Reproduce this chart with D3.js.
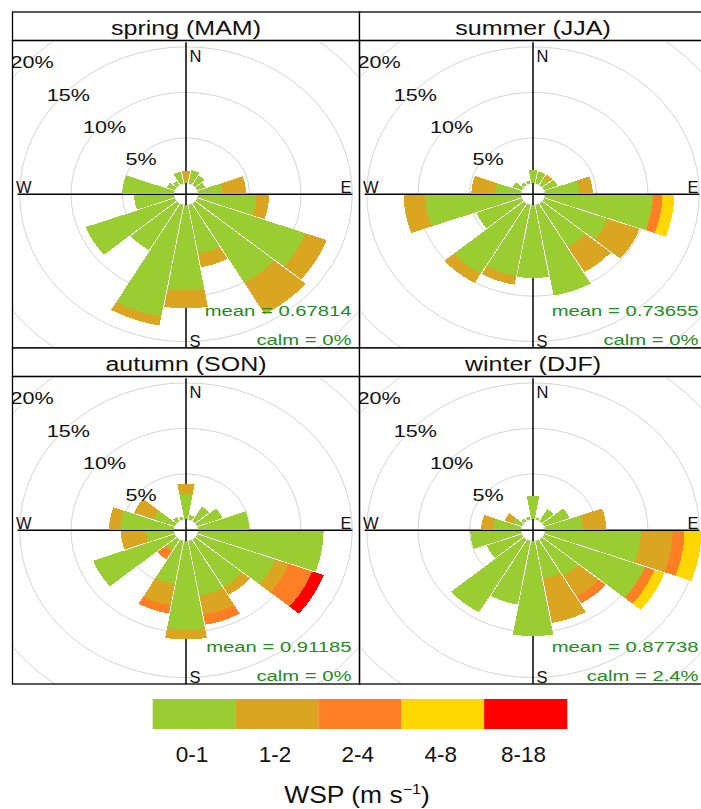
<!DOCTYPE html>
<html>
<head>
<meta charset="utf-8">
<script src="https://cdn.jsdelivr.net/npm/d3@7"></script>
<style>
  html, body { margin: 0; padding: 0; background: #fff; }
  svg { display: block; font-family: "Liberation Sans", Arial, Helvetica, sans-serif; }
</style>
</head>
<body>
<svg id="chart" width="701" height="809"></svg>
<script>
// Wind direction sectors (degrees, 20° bins)
const directions = [0, 20, 40, 60, 80, 100, 120, 140, 160, 180, 200, 220, 240, 260, 280, 300, 320, 340];

// Wind-speed intervals and their colours
const wspBins = ["0-1", "1-2", "2-4", "4-8", "8-18"];
const binColours = ["#9ACD32", "#DAA520", "#FF7F24", "#FFD700", "#FF0000"];

// Panels
const seasonTitles = ["spring (MAM)", "summer (JJA)", "autumn (SON)", "winter (DJF)"];
const meanSpeed = ["0.67814", "0.73655", "0.91185", "0.87738"];
const calmPct = ["0%", "0%", "0%", "2.4%"];
const ringPct = [5, 10, 15, 20];

// Frequency (%) of each speed interval by direction — spring
const spring01  = [0.26, 1.5, 1.2, 0.8, 2.3, 5.65, 11.2, 10.05, 5.45, 9.35, 12.45, 5.9, 9.2, 3.85, 5.0, 0.8, 0.5, 1.3];
const spring12  = [1.1, 0, 0, 0, 2.35, 1.25, 2.2, 4.0, 1.5, 2.0, 1.0, 0, 0, 0, 0, 0, 0, 0];
const spring24  = [0, 0, 0, 0, 0, 0, 0, 0, 0, 0, 0, 0, 0, 0, 0, 0, 0, 0];
const spring48  = [0, 0, 0, 0, 0, 0, 0, 0, 0, 0, 0, 0, 0, 0, 0, 0, 0, 0];
const spring818 = [0, 0, 0, 0, 0, 0, 0, 0, 0, 0, 0, 0, 0, 0, 0, 0, 0, 0];

// summer
const summer01  = [1.45, 1.34, 0.8, 1.35, 3.32, 10.4, 6.56, 5.5, 10.1, 8.0, 7.9, 8.9, 4.67, 9.3, 2.5, 0.9, 0.3, 0.3];
const summer12  = [0, 0, 0.5, 0, 1.3, 0.1, 3.3, 3.2, 0, 0, 1.0, 1.2, 0, 2.1, 2.3, 0, 0, 0];
const summer24  = [0, 0, 0, 0, 0, 0.9, 0, 0, 0, 0, 0, 0, 0, 0, 0, 0, 0, 0];
const summer48  = [0, 0, 0, 0, 0, 1.15, 0, 0, 0, 0, 0, 0, 0, 0, 0, 0, 0, 0];
const summer818 = [0, 0, 0, 0, 0, 0, 0, 0, 0, 0, 0, 0, 0, 0, 0, 0, 0, 0];

// autumn
const autumn01  = [2.8, 0.5, 1.8, 2.6, 4.96, 12.2, 8.07, 6.0, 6.1, 9.7, 4.8, 1.3, 8.44, 2.7, 5.2, 2.2, 0.5, 0.3];
const autumn12  = [1.1, 0, 0, 0, 0, 0, 1.4, 1.0, 2.15, 1.1, 2.4, 0.2, 0, 2.45, 1.1, 2.0, 0, 0];
const autumn24  = [0, 0, 0, 0, 0, 0, 2.43, 0, 1.1, 0, 0.9, 1.0, 0, 0, 0, 0, 0, 0];
const autumn48  = [0, 0, 0, 0, 0, 0, 0, 0, 0, 0, 0, 0, 0, 0, 0, 0, 0, 0];
const autumn818 = [0, 0, 0, 0, 0, 0, 1.2, 0, 0, 0, 0, 0, 0, 0, 0, 0, 0, 0];

// winter
const winter01  = [2.6, 0.2, 1.5, 2.6, 3.64, 9.3, 10.4, 4.6, 4.2, 10.43, 7.1, 9.24, 3.59, 4.9, 2.7, 0.9, 0.3, 0.3];
const winter12  = [0, 0, 0, 0, 2.3, 3.1, 0, 2.6, 4.95, 0, 0, 0, 0, 0, 1.15, 0.85, 0, 0];
const winter24  = [0, 0, 0, 0, 0, 1.15, 1.0, 0.9, 0, 0, 0, 0, 0, 0, 0, 0, 0, 0];
const winter48  = [0, 0, 0, 0, 0, 1.65, 1.05, 0, 0, 0, 0, 0, 0, 0, 0, 0, 0, 0];
const winter818 = [0, 0, 0, 0, 0, 0, 0, 0, 0, 0, 0, 0, 0, 0, 0, 0, 0, 0];

const seasonBins = [
  [spring01, spring12, spring24, spring48, spring818],
  [summer01, summer12, summer24, summer48, summer818],
  [autumn01, autumn12, autumn24, autumn48, autumn818],
  [winter01, winter12, winter24, winter48, winter818]
];

// ---- layout ----
const svg = d3.select("#chart");
const panelLeft = [12.5, 359.5];
const stripTop = [12, 348];
const panelW = 347, stripH = 28.5, panelH = 307.5;
const span = 16.9;        // half-range of the polar scale (frequency + offset units)
const offset = 1.2;       // inner hole radius in frequency units
const sector = 20;
const gapPx = 0.45;

function wedgePath(xs, ys, dirDeg, f1, f2) {
  const r1 = f1 + offset, r2 = f2 + offset;
  const kx = Math.abs(xs(1) - xs(0)), ky = Math.abs(ys(1) - ys(0));
  const arc = (r, forward) => {
    const inset = Math.asin(Math.min(1, gapPx / (r * (kx + ky) / 2))) * 180 / Math.PI;
    const a0 = dirDeg - sector / 2 + inset, a1 = dirDeg + sector / 2 - inset;
    const n = 24, pts = [];
    for (let i = 0; i <= n; i++) {
      const a = (a0 + (a1 - a0) * i / n) * Math.PI / 180;
      pts.push([xs(r * Math.sin(a)), ys(r * Math.cos(a))]);
    }
    return forward ? pts : pts.reverse();
  };
  return d3.line()([...arc(r1, true), ...arc(r2, false)]) + "Z";
}

seasonTitles.forEach((title, p) => {
  const col = p % 2, row = Math.floor(p / 2);
  const x0 = panelLeft[col], sy = stripTop[row];
  const y0 = sy + stripH, y1 = y0 + panelH;

  const xs = d3.scaleLinear().domain([-span, span]).range([x0, x0 + panelW]);
  const ys = d3.scaleLinear().domain([-span, span]).range([y1, y0]);
  const cx = xs(0), cy = ys(0);

  // strip
  svg.append("rect").attr("x", x0).attr("y", sy).attr("width", panelW).attr("height", stripH)
    .attr("fill", "#fff").attr("stroke", "#000").attr("stroke-width", 1.3);
  svg.append("text")
    .attr("transform", `translate(${x0 + panelW / 2},${sy + 23}) scale(1.25,1)`)
    .attr("text-anchor", "middle").attr("font-size", 20).attr("fill", "#111").text(title);

  const clipId = "clip" + p;
  svg.append("clipPath").attr("id", clipId)
    .append("rect").attr("x", x0).attr("y", y0).attr("width", panelW).attr("height", panelH);
  const g = svg.append("g").attr("clip-path", `url(#${clipId})`);

  // grid rings
  [0, ...ringPct].forEach(v => {
    g.append("ellipse").attr("cx", cx).attr("cy", cy)
      .attr("rx", xs(v + offset) - cx).attr("ry", cy - ys(v + offset))
      .attr("fill", "none").attr("stroke", "#d4d4d4").attr("stroke-width", 1);
  });

  // axes
  g.append("line").attr("x1", xs(-16.4)).attr("x2", xs(16.2)).attr("y1", cy).attr("y2", cy)
    .attr("stroke", "#000").attr("stroke-width", 1.5);
  g.append("line").attr("x1", cx).attr("x2", cx).attr("y1", ys(16.7)).attr("y2", ys(-17))
    .attr("stroke", "#000").attr("stroke-width", 1.5);

  // stacked wedges
  const bins = seasonBins[p];
  directions.forEach((d, i) => {
    let cum = 0;
    bins.forEach((arr, b) => {
      const v = arr[i];
      if (v > 0) {
        g.append("path").attr("d", wedgePath(xs, ys, d, cum, cum + v))
          .attr("fill", binColours[b]).attr("shape-rendering", "crispEdges");
      }
      cum += v;
    });
  });

  // ring labels
  ringPct.forEach(v => {
    const r = (v + offset) * Math.SQRT1_2;
    g.append("text")
      .attr("transform", `translate(${xs(-r)},${ys(r) + 10.5}) scale(1.35,1)`)
      .attr("text-anchor", "middle").attr("font-size", 16).attr("fill", "#111").text(v + "%");
  });

  // compass letters
  const lab = (txt, x, y, anchor) => g.append("text").attr("x", x).attr("y", y)
    .attr("text-anchor", anchor).attr("font-size", 16.5).attr("fill", "#111").text(txt);
  lab("N", cx + 3.5, cy - 132.5, "start");
  lab("S", cx + 3.5, cy + 152.5, "start");
  lab("W", cx - 170, cy - 1.5, "start");
  lab("E", cx + 165.5, cy - 1.5, "end");

  // statistics
  g.append("text")
    .attr("transform", `translate(${cx + 165.5},${cy + 121.5}) scale(1.35,1)`)
    .attr("text-anchor", "end").attr("font-size", 15).attr("fill", "forestgreen")
    .text("mean = " + meanSpeed[p]);
  g.append("text")
    .attr("transform", `translate(${cx + 165.5},${cy + 151}) scale(1.35,1)`)
    .attr("text-anchor", "end").attr("font-size", 15).attr("fill", "forestgreen")
    .text("calm = " + calmPct[p]);

  // panel frame
  svg.append("rect").attr("x", x0).attr("y", y0).attr("width", panelW).attr("height", panelH)
    .attr("fill", "none").attr("stroke", "#000").attr("stroke-width", 1.3);
});

// ---- legend ----
const lx = d3.scaleBand().domain(wspBins).range([152.7, 567]).paddingInner(0);
const legend = svg.append("g");
legend.selectAll("rect").data(wspBins).join("rect")
  .attr("x", d => lx(d)).attr("y", 699).attr("width", lx.bandwidth() + 0.3).attr("height", 30)
  .attr("fill", (d, i) => binColours[i]);
legend.selectAll("text.lab").data(wspBins).join("text").attr("class", "lab")
  .attr("x", d => lx(d) + lx.bandwidth() / 2 - 2).attr("y", 762)
  .attr("text-anchor", "middle").attr("font-size", 22.5).attr("fill", "#111").text(d => d);

const title = legend.append("text")
  .attr("transform", "translate(357,803) scale(1.15,1)")
  .attr("text-anchor", "middle").attr("font-size", 23).attr("fill", "#111");
title.append("tspan").text("WSP (m s");
title.append("tspan").attr("font-size", 14).attr("dy", -9).text("\u22121");
title.append("tspan").attr("dy", 9).text(")");
</script>
</body>
</html>
